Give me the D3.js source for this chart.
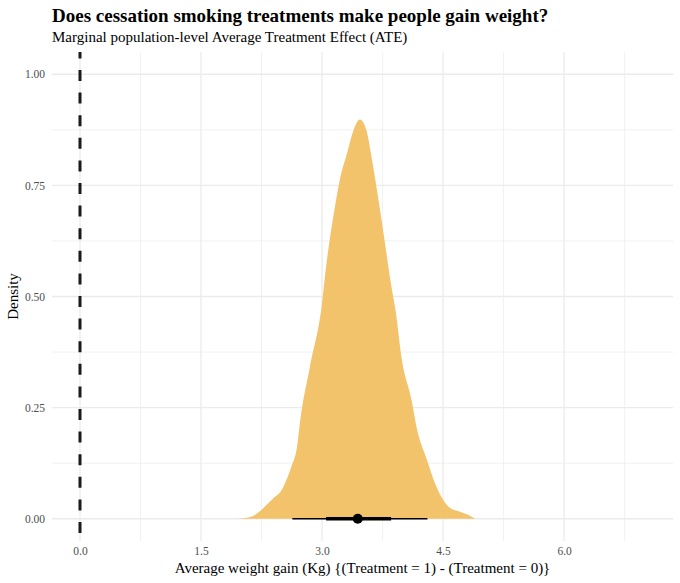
<!DOCTYPE html>
<html>
<head>
<meta charset="utf-8">
<script src="https://cdn.jsdelivr.net/npm/d3@7"></script>
<style>
  body { margin: 0; background: #fff; }
  text { font-family: "Liberation Serif", "Times New Roman", serif; }
</style>
</head>
<body>
<div class="chart"></div>
<script>
// ======= DENSITY OF THE ATE (posterior draws) ===========

// density curve
const densityX = [1.94, 2.11, 2.23, 2.31, 2.40, 2.50, 2.56, 2.62, 2.69, 2.73, 2.85, 3.00, 3.05, 3.10, 3.16, 3.22, 3.31, 3.39, 3.47, 3.55, 3.62, 3.70, 3.78, 3.86, 3.91, 3.99, 4.11, 4.17, 4.30, 4.40, 4.50, 4.59, 4.71, 4.81, 4.90]
const densityY = [0.000, 0.004, 0.017, 0.031, 0.047, 0.065, 0.088, 0.117, 0.162, 0.222, 0.342, 0.485, 0.567, 0.634, 0.702, 0.762, 0.822, 0.874, 0.898, 0.874, 0.807, 0.717, 0.620, 0.522, 0.470, 0.357, 0.267, 0.207, 0.133, 0.080, 0.043, 0.024, 0.016, 0.009, 0.000]

// point + intervals
const pointEstimate = 3.443
const interval66 = [3.05, 3.856]
const interval95 = [2.632, 4.306]

const xTicks = [0, 1.5, 3.0, 4.5, 6.0]
const xMinor = [0.75, 2.25, 3.75, 5.25, 6.75]
const yTicks = [0, 0.25, 0.5, 0.75, 1.0]
const yMinor = [0.125, 0.375, 0.625, 0.875]

const titleText = 'Does cessation smoking treatments make people gain weight?'
const subtitleText = 'Marginal population-level Average Treatment Effect (ATE)'
const xLabel = 'Average weight gain (Kg) {(Treatment = 1) - (Treatment = 0)}'
const yLabel = 'Density'

const margin = { top: 52, right: 7, bottom: 42, left: 52 }
const width = 680 - margin.left - margin.right
const height = 583 - margin.top - margin.bottom

const svg = d3.select('.chart')
  .append('svg')
    .attr('width', 680)
    .attr('height', 583)

const g = svg.append('g')
  .attr('transform', `translate(${margin.left}, ${margin.top})`)

const xScale = d3.scaleLinear()
  .domain([-0.347, 7.35])
  .range([0, width])
const yScale = d3.scaleLinear()
  .domain([-0.05, 1.05])
  .range([height, 0])

// grid
g.selectAll('.minor-x').data(xMinor).enter().append('line')
  .attr('x1', d => xScale(d)).attr('x2', d => xScale(d))
  .attr('y1', 0).attr('y2', height)
  .attr('stroke', '#ebebeb').attr('stroke-width', 0.7)
g.selectAll('.minor-y').data(yMinor).enter().append('line')
  .attr('y1', d => yScale(d)).attr('y2', d => yScale(d))
  .attr('x1', 0).attr('x2', width)
  .attr('stroke', '#ebebeb').attr('stroke-width', 0.7)
g.selectAll('.major-x').data(xTicks).enter().append('line')
  .attr('x1', d => xScale(d)).attr('x2', d => xScale(d))
  .attr('y1', 0).attr('y2', height)
  .attr('stroke', '#ebebeb').attr('stroke-width', 1.3)
g.selectAll('.major-y').data(yTicks).enter().append('line')
  .attr('y1', d => yScale(d)).attr('y2', d => yScale(d))
  .attr('x1', 0).attr('x2', width)
  .attr('stroke', '#ebebeb').attr('stroke-width', 1.3)

// axes (text only, like theme_minimal)
const xAxis = d3.axisBottom(xScale).tickValues(xTicks).tickFormat(d3.format('.1f')).tickSize(0).tickPadding(6)
g.append('g')
  .attr('transform', `translate(0, ${height})`)
  .call(xAxis)
  .call(a => a.select('.domain').remove())
  .selectAll('text')
    .attr('font-size', 11.5).attr('fill', '#4d4d4d')
    .style('font-family', '"Liberation Serif", serif')

const yAxis = d3.axisLeft(yScale).tickValues(yTicks).tickFormat(d3.format('.2f')).tickSize(0).tickPadding(7)
g.append('g')
  .call(yAxis)
  .call(a => a.select('.domain').remove())
  .selectAll('text')
    .attr('font-size', 11.5).attr('fill', '#4d4d4d')
    .style('font-family', '"Liberation Serif", serif')

// density
const area = d3.area()
  .x((d, i) => xScale(densityX[i]))
  .y0(yScale(0))
  .y1(d => yScale(d))
  .curve(d3.curveMonotoneX)

g.append('path')
  .datum(densityY)
  .attr('d', area)
  .attr('fill', '#f2c36b')

// vertical reference line at 0
g.append('line')
  .attr('x1', xScale(0)).attr('x2', xScale(0))
  .attr('y1', 0).attr('y2', height)
  .attr('stroke', '#1a1a1a').attr('stroke-width', 3)
  .attr('stroke-dasharray', '11,11.6')
  .attr('stroke-dashoffset', 4.6)

// point interval
g.append('line')
  .attr('x1', xScale(interval95[0])).attr('x2', xScale(interval95[1]))
  .attr('y1', yScale(0)).attr('y2', yScale(0))
  .attr('stroke', '#000').attr('stroke-width', 1.7)
g.append('line')
  .attr('x1', xScale(interval66[0])).attr('x2', xScale(interval66[1]))
  .attr('y1', yScale(0)).attr('y2', yScale(0))
  .attr('stroke', '#000').attr('stroke-width', 3.4)
g.append('circle')
  .attr('cx', xScale(pointEstimate)).attr('cy', yScale(0))
  .attr('r', 5).attr('fill', '#000')

// titles
svg.append('text')
  .attr('x', 52).attr('y', 22)
  .attr('font-size', 19).attr('font-weight', 'bold').attr('fill', '#000')
  .text(titleText)
svg.append('text')
  .attr('x', 52).attr('y', 42)
  .attr('font-size', 15).attr('fill', '#000')
  .text(subtitleText)

svg.append('text')
  .attr('x', margin.left + width / 2).attr('y', 573)
  .attr('text-anchor', 'middle')
  .attr('font-size', 15).attr('fill', '#000')
  .text(xLabel)
svg.append('text')
  .attr('transform', `translate(18, ${margin.top + height / 2}) rotate(-90)`)
  .attr('text-anchor', 'middle')
  .attr('font-size', 15).attr('fill', '#000')
  .text(yLabel)
</script>
</body>
</html>
